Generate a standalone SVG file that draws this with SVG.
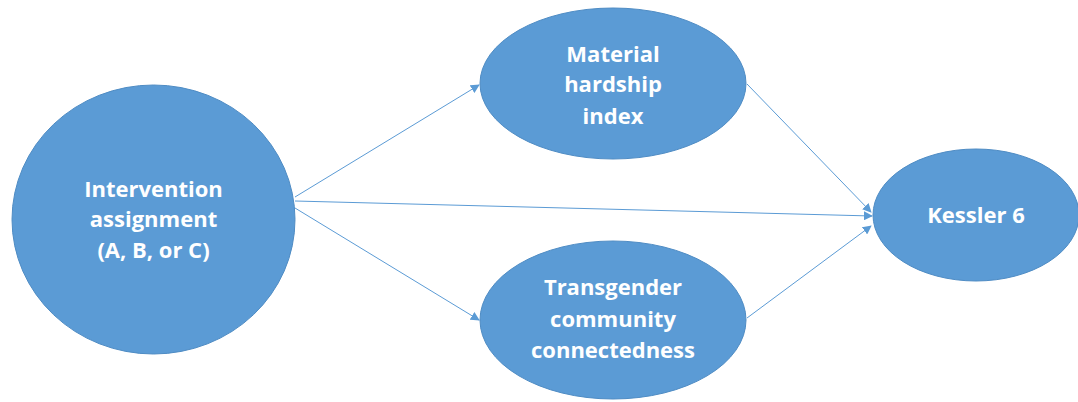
<svg xmlns="http://www.w3.org/2000/svg" width="1078" height="402" viewBox="0 0 1078 402">
  <style>
    .node { fill: #5b9bd5; stroke: #4f8cc4; stroke-width: 1; }
    .label { font-family: "Open Sans", "Liberation Sans", sans-serif; font-weight: bold; font-size: 22px; fill: #ffffff; text-anchor: middle; }
    .edge { stroke: #5b9bd5; stroke-width: 1; fill: none; marker-end: url(#arrow); }
  </style>
  <defs>
    <marker id="arrow" viewBox="0 0 10 10" refX="9" refY="5" markerWidth="9" markerHeight="9" markerUnits="userSpaceOnUse" orient="auto">
      <path d="M0,0 L10,5 L0,10 Z" fill="#5b9bd5"/>
    </marker>
  </defs>
  <rect width="1078" height="402" fill="#ffffff"/>

  <g id="connectors">
    <line class="edge" x1="295" y1="197" x2="479" y2="85"/>
    <line class="edge" x1="295" y1="201" x2="872" y2="216"/>
    <line class="edge" x1="295" y1="208" x2="479" y2="320"/>
    <line class="edge" x1="747" y1="84" x2="871" y2="212"/>
    <line class="edge" x1="747" y1="318" x2="871" y2="226"/>
  </g>

  <g id="intervention">
    <ellipse class="node" cx="153.5" cy="219.5" rx="141.5" ry="134.5"/>
    <text class="label" x="153.5" y="197">Intervention</text>
    <text class="label" x="153.5" y="227">assignment</text>
    <text class="label" x="153.5" y="258">(A, B, or C)</text>
  </g>

  <g id="hardship">
    <ellipse class="node" cx="613" cy="83.5" rx="133" ry="75.5"/>
    <text class="label" x="613" y="62">Material</text>
    <text class="label" x="613" y="92">hardship</text>
    <text class="label" x="613" y="124">index</text>
  </g>

  <g id="connectedness">
    <ellipse class="node" cx="613" cy="320" rx="133" ry="79"/>
    <text class="label" x="613" y="295">Transgender</text>
    <text class="label" x="613" y="327">community</text>
    <text class="label" x="613" y="358">connectedness</text>
  </g>

  <g id="kessler">
    <ellipse class="node" cx="976" cy="215" rx="103" ry="66"/>
    <text class="label" x="976" y="223">Kessler 6</text>
  </g>
</svg>
